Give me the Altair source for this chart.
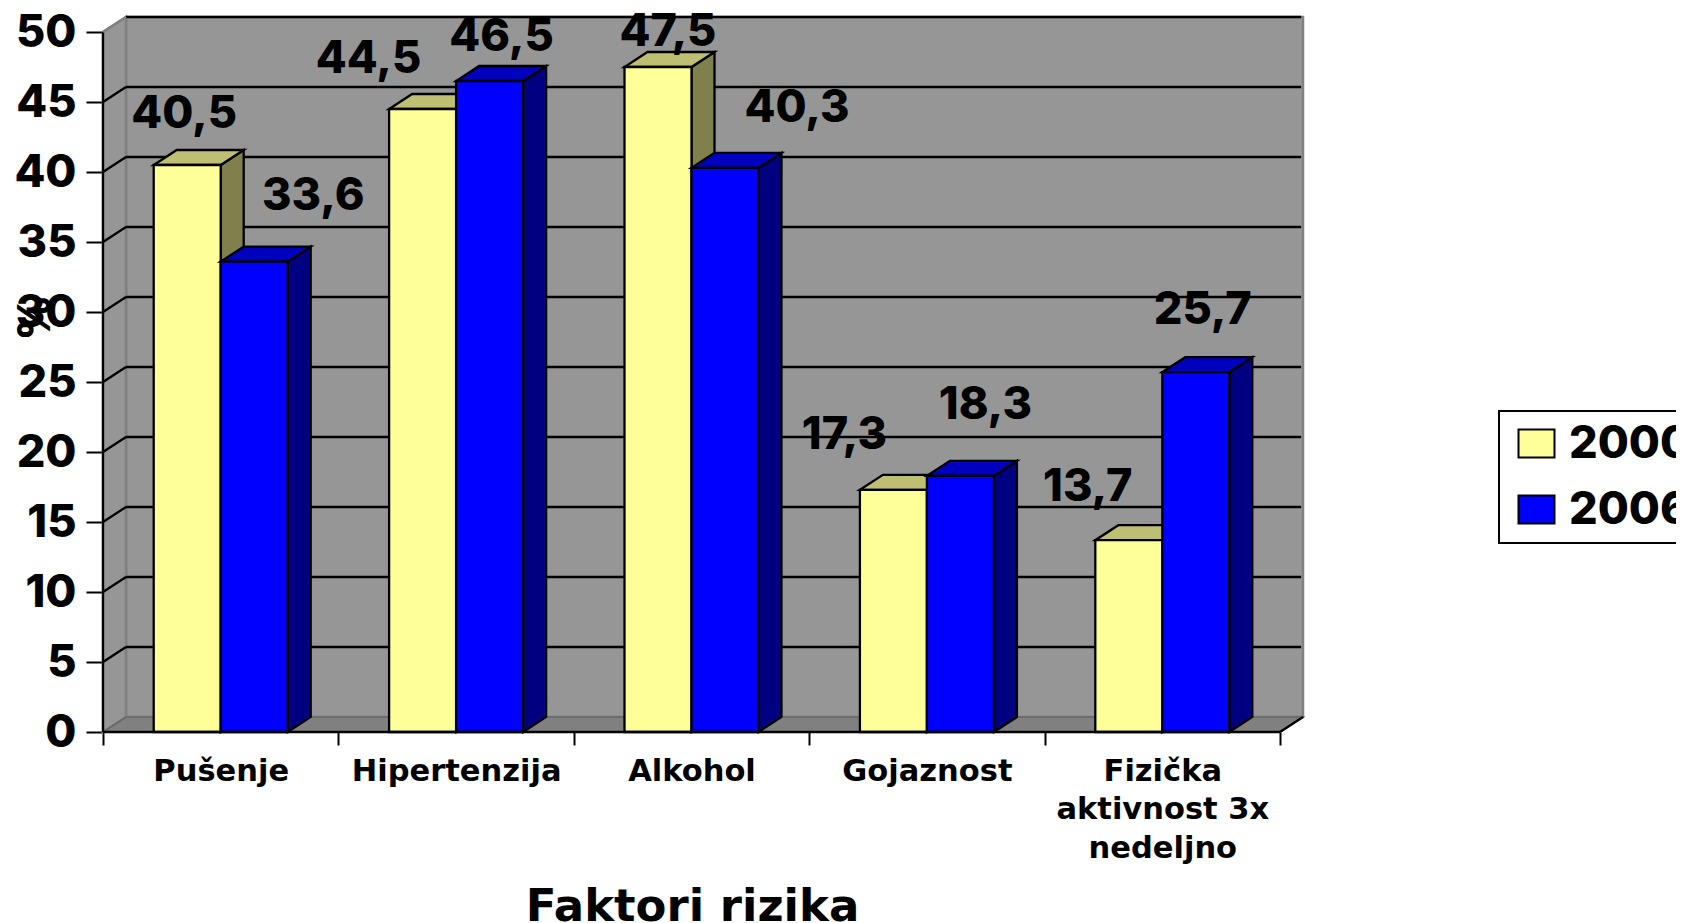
import altair as alt
import pandas as pd

CATEGORIES = ["Pušenje", "Hipertenzija", "Alkohol", "Gojaznost", "Fizička aktivnost 3x nedeljno"]
CATEGORY_LINES = [["Pušenje"], ["Hipertenzija"], ["Alkohol"], ["Gojaznost"], ["Fizička", "aktivnost 3x", "nedeljno"]]
SERIES = ["2000", "2006"]
VALUES_2000 = [40.5, 44.5, 47.5, 17.3, 13.7]
VALUES_2006 = [33.6, 46.5, 40.3, 18.3, 25.7]

# hand-placed label offsets, px from the top centre of each bar's front face
LABEL_DX_2000 = [-3, -54, 10, -49, -41]
LABEL_DY_2000 = [-37, -36, -21, -41, -39]
LABEL_DX_2006 = [59, 12, 72, 25, 7]
LABEL_DY_2006 = [-52, -30, -46, -57, -48]

FONT = "Inter"
WIDE_FONT = "DejaVu Sans"
CAT_PX, UNIT_PX = 235.4, 14.0
W, H = 1200, 715
DX, DY = 23 / CAT_PX, 15 / UNIT_PX
XMAX, YMAX = W / CAT_PX, H / UNIT_PX
GAP, BW = 0.2154, 67 / CAT_PX
TICKS = list(range(0, 51, 5))
FACE = {"2000": "#FFFF99", "2006": "#0000FF"}
SIDE = {"2000": "#80804D", "2006": "#000080"}
TOP = {"2000": "#BFBF73", "2006": "#0000BF"}
LINE = 2.3

xs = alt.Scale(domain=[0, XMAX], nice=False, zero=False)
ys = alt.Scale(domain=[0, YMAX], nice=False, zero=False)

label_map = "{" + ",".join(f"'{i}':{lines!r}" for i, lines in enumerate(CATEGORY_LINES)) + "}"
x_values = [i / 2 for i in range(11)]
X_AXIS = alt.Axis(
    values=x_values, grid=False, domain=False, title="Faktori rizika", titleFont=WIDE_FONT, titleFontSize=45,
    titleFontWeight="bold", titleColor="black", titleX=589, titleY=188, titleBaseline="alphabetic",
    titleAlign="center",
    tickSize=13, tickWidth=2, tickColor="black",
    tickOpacity={"condition": {"test": "datum.value % 1 == 0", "value": 1}, "value": 0},
    labelExpr=f"datum.value % 1 == 0 ? '' : {label_map}[floor(datum.value)]",
    labelFont=WIDE_FONT, labelFontSize=30.5, labelFontWeight="bold", labelColor="black",
    labelPadding=11, labelLineHeight=38.5, labelOverlap=False, labelBound=False, labelFlush=False,
    labelAngle=0, labelBaseline="top", labelAlign="center", labelLimit=500)
Y_AXIS = alt.Axis(
    values=TICKS, grid=False, domain=False, title="%", titleFont=FONT, titleFontSize=45,
    titleFontWeight=800, titleColor="black", titleX=-68, titleY=300, titleAngle=270,
    titleAlign="center", titleBaseline="middle",
    tickSize=17, tickWidth=2, tickColor="black",
    labelFont=FONT, labelFontSize=45, labelFontWeight=800, labelColor="black",
    labelPadding=10, labelOverlap=False, labelBound=False, labelFlush=False)

def X(f="x"): return alt.X(f"{f}:Q", scale=xs, axis=X_AXIS)
def Y(f="y"): return alt.Y(f"{f}:Q", scale=ys, axis=Y_AXIS)

def poly(df, fill, sw=LINE, stroke="black"):
    return alt.Chart(df).mark_area(fill=fill, stroke=stroke, strokeWidth=sw, opacity=1, interpolate="linear").encode(
        x=X(), y=Y("y"), y2=alt.Y2("y2:Q"), detail="id:N")

def rules(df, color="black", sw=LINE):
    return alt.Chart(df).mark_rule(color=color, strokeWidth=sw).encode(
        x=X("x"), x2=alt.X2("x2:Q"), y=Y("y"), y2=alt.Y2("y2:Q"))

layers = []

# walls and floor
back = pd.DataFrame({"x": [DX, XMAX], "y": [DY, DY], "y2": [YMAX, YMAX], "id": ["b", "b"]})
side = pd.DataFrame({"x": [0, DX], "y": [0, DY], "y2": [50, YMAX], "id": ["s", "s"]})
floor = pd.DataFrame({"x": [0, DX, 5, XMAX], "y": [0, 0, 0, DY], "y2": [0, DY, DY, DY], "id": ["f"] * 4})
layers += [poly(back, "#969696", 2.5, "#808080"), poly(side, "#969696", 2.5, "#808080"), poly(floor, "#808080", 1.5, "#666666")]

# gridlines: back wall and side wall
grid = pd.DataFrame({"x": [DX for t in TICKS[1:]], "x2": [XMAX - 0.008 for t in TICKS[1:]],
                     "y": [t + DY for t in TICKS[1:]], "y2": [t + DY for t in TICKS[1:]]})
diag = pd.DataFrame({"x": [0 for t in TICKS[1:-1]], "x2": [DX for t in TICKS[1:-1]],
                     "y": TICKS[1:-1], "y2": [t + DY for t in TICKS[1:-1]]})
layers += [rules(grid), rules(diag)]

# bars
for s, vals, off in [("2000", VALUES_2000, 0), ("2006", VALUES_2006, BW)]:
    side_rows, top_rows, front_rows = [], [], []
    for i, v in enumerate(vals):
        x0 = i + GAP + off
        x1 = x0 + BW
        side_rows += [{"id": i, "x": x1, "y": 0, "y2": v}, {"id": i, "x": x1 + DX, "y": DY, "y2": v + DY}]
        top_rows += [{"id": i, "x": x0, "y": v, "y2": v}, {"id": i, "x": x0 + DX, "y": v, "y2": v + DY},
                     {"id": i, "x": x1, "y": v, "y2": v + DY}, {"id": i, "x": x1 + DX, "y": v + DY, "y2": v + DY}]
        front_rows.append({"x": x0, "x2": x1, "y": 0, "y2": v, "series": s})
    layers.append(poly(pd.DataFrame(side_rows), SIDE[s]))
    layers.append(poly(pd.DataFrame(top_rows), TOP[s]))
    layers.append(alt.Chart(pd.DataFrame(front_rows)).mark_rect(stroke="black", strokeWidth=LINE).encode(
        x=X("x"), x2=alt.X2("x2:Q"), y=Y("y"), y2=alt.Y2("y2:Q"),
        fill=alt.Fill("series:N", scale=alt.Scale(domain=SERIES, range=[FACE[k] for k in SERIES]),
                      legend=alt.Legend(orient="none", legendX=1396, legendY=394, title=None,
                                        symbolType="M-1,-0.78H1V0.78H-1Z", symbolSize=1296,
                                        symbolStrokeColor="black", symbolStrokeWidth=2,
                                        labelFont=FONT, labelFontSize=45, labelFontWeight=800,
                                        labelColor="black", labelOffset=10, rowPadding=20,
                                        padding=10, symbolOffset=5, strokeColor="black", fillColor="white",
                                        labelLimit=400))))

# front edges of the axes
edges = pd.DataFrame({"x": [0, 0, 5], "x2": [0, 5, XMAX], "y": [0, 0, 0], "y2": [50, 0, DY]})
top_edge = pd.DataFrame({"x": [0], "x2": [DX], "y": [50], "y2": [50 + DY]})
layers += [rules(edges), rules(top_edge, "#808080")]

# data labels
lab = []
for s, vals, off, dxs, dys in [("2000", VALUES_2000, 0, LABEL_DX_2000, LABEL_DY_2000),
                               ("2006", VALUES_2006, BW, LABEL_DX_2006, LABEL_DY_2006)]:
    for i, v in enumerate(vals):
        lab.append({"x": i + GAP + off + BW / 2 + dxs[i] / CAT_PX, "y": v - dys[i] / UNIT_PX,
                    "t": f"{v:.1f}".replace(".", ",")})
layers.append(alt.Chart(pd.DataFrame(lab)).mark_text(font=FONT, fontSize=45, fontWeight=800, color="black",
                                                     align="center", baseline="alphabetic", clip=False).encode(
    x=X(), y=Y(), text="t:N"))

chart = alt.layer(*layers).properties(
    width=W, height=H,
    autosize=alt.AutoSizeParams(type="none"),
    padding={"left": 95, "top": 9, "right": 373, "bottom": 191},
).configure_view(stroke=None).configure_legend(strokeWidth=2)

chart.save("out.html", embed_options={"renderer": "svg", "actions": False})
